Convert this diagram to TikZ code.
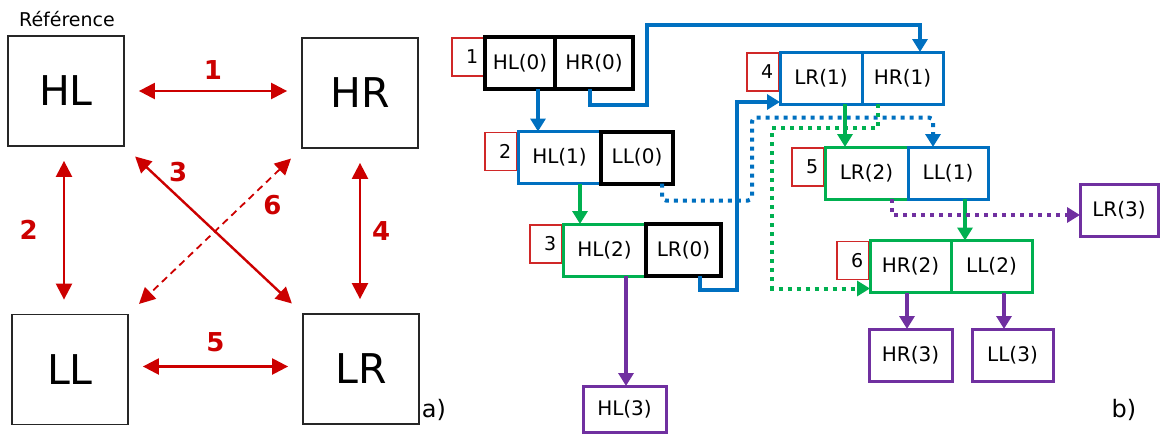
\documentclass[tikz,border=0pt]{standalone}
\usepackage{fontspec}
\setmainfont{DejaVu Sans}
\usetikzlibrary{arrows.meta, positioning, calc, backgrounds}
\definecolor{arred}{HTML}{CC0000}
\definecolor{numred}{HTML}{D02828}
\definecolor{cblue}{HTML}{0070C0}
\definecolor{cgreen}{HTML}{00B050}
\definecolor{cpurple}{HTML}{7030A0}
\tikzset{
  bigbox/.style={rectangle, draw=black!85, line width=1.8pt, minimum width=116pt,
                 minimum height=110pt, font=\fontsize{41}{48}\selectfont},
  lbl/.style={text=arred, inner sep=0pt, font=\bfseries\fontsize{26}{30}\selectfont},
  rarr/.style={{Triangle[length=16pt,width=16pt]}-{Triangle[length=16pt,width=16pt]},
               draw=arred, line width=2.4pt, shorten <=14pt, shorten >=14pt},
  rdash/.style={rarr, line width=1.8pt, dash pattern=on 7pt off 5pt},
  cell/.style={rectangle, draw, line width=3pt, outer sep=0pt, inner sep=0pt,
               minimum height=52pt, minimum width=81pt, fill=white,
               font=\fontsize{20}{24}\selectfont},
  blackcell/.style={cell, draw=black, line width=4pt},
  bluecell/.style={cell, draw=cblue},
  greencell/.style={cell, draw=cgreen},
  purplecell/.style={cell, draw=cpurple},
  numbox/.style={rectangle, draw=numred, line width=1.6pt, minimum width=32pt,
                 minimum height=38pt, text width=20pt, align=right, inner xsep=4pt,
                 inner ysep=0pt, font=\fontsize{19}{22}\selectfont},
  barr/.style={-{Triangle[length=13pt,width=15pt]}, draw=cblue, line width=4pt},
  garr/.style={barr, draw=cgreen},
  parr/.style={barr, draw=cpurple},
  bdot/.style={barr, dash pattern=on 4pt off 5pt},
  gdot/.style={garr, dash pattern=on 4pt off 5pt},
  pdot/.style={parr, dash pattern=on 4pt off 5pt},
}
\begin{document}
\begin{tikzpicture}[x=1pt, y=-1pt]
  \useasboundingbox (0,0) rectangle (1161,434);

  %% === a) reference square ===
  \node[font=\fontsize{19}{22}\selectfont] (ref) at (67,19) {Référence};
  \node[bigbox] (bighl) at (66,91)    {HL};
  \node[bigbox] (bighr) at (360,93)   {HR};
  \node[bigbox] (bigll) at (70,369.5) {LL};
  \node[bigbox] (biglr) at (361,369)  {LR};
  \node[font=\fontsize{24}{28}\selectfont] (taga) at (434,410) {a)};

  \draw[rarr] (bighl.east) -- (bighl.east -| bighr.west)
    node[lbl, midway, above=10pt] {1};
  \draw[rarr] ([xshift=-2pt]bighl.south) -- ([xshift=-2pt]bighl.south |- bigll.north)
    node[lbl, midway, left=25pt] {2};
  \draw[rarr] (bighl.south east) -- (biglr.north west)
    node[lbl, pos=0.3, above=14pt] {3};
  \draw[rarr] (bighr.south) -- (bighr.south |- biglr.north)
    node[lbl, midway, right=11pt] {4};
  \draw[rarr] ([yshift=3pt]bigll.east) -- ([yshift=3pt]bigll.east -| biglr.west)
    node[lbl, midway, above=13pt] {5};
  \draw[rdash] (bighr.south west) -- (bigll.north east)
    node[lbl, pos=0.34, right=20pt] {6};

  %% === b) sequence of moves ===
  \node[font=\fontsize{24}{28}\selectfont] (tagb) at (1124,410) {b)};

  % step 1
  \node[blackcell, minimum width=70pt] (hlzero) at (520,63) {HL(0)};
  \node[blackcell, minimum width=78pt, right=0pt of hlzero] (hrzero) {HR(0)};
  % step 2
  \node[bluecell, minimum width=83pt] (hlone) at (559.5,157.5) {HL(1)};
  \node[blackcell, minimum width=72pt, right=0pt of hlone] (llzero) {LL(0)};
  % step 3
  \node[greencell, minimum width=83pt] (hltwo) at (604.5,250) {HL(2)};
  \node[blackcell, minimum width=75pt, right=0pt of hltwo] (lrzero) {LR(0)};
  \node[purplecell, minimum width=83pt, minimum height=46pt] (hlthree) at (624.5,409) {HL(3)};
  % step 4
  \node[bluecell, minimum width=82pt] (lrone) at (821,78) {LR(1)};
  \node[bluecell, right=0pt of lrone] (hrone) {HR(1)};
  % step 5
  \node[greencell, minimum width=83pt] (lrtwo) at (866.5,173) {LR(2)};
  \node[bluecell, minimum width=80pt, right=0pt of lrtwo] (llone) {LL(1)};
  \node[purplecell, minimum width=78pt] (lrthree) at (1119,210) {LR(3)};
  % step 6
  \node[greencell] (hrtwo) at (910.5,266.5) {HR(2)};
  \node[greencell, right=0pt of hrtwo] (lltwo) {LL(2)};
  \node[purplecell, minimum width=83pt] (hrthree) at (910.5,355) {HR(3)};
  \node[purplecell] (llthree) at (1012.5,355) {LL(3)};

  %% step numbers (behind the boxes)
  \begin{scope}[on background layer]
    \node[numbox, anchor=north east] (numone)   at (hlzero.north west) {1};
    \node[numbox, anchor=north east] (numtwo)   at (hlone.north west)  {2};
    \node[numbox, anchor=north east] (numthree) at (hltwo.north west)  {3};
    \node[numbox, anchor=north east] (numfour)  at (lrone.north west)  {4};
    \node[numbox, anchor=north east] (numfive)  at (lrtwo.north west)  {5};
    \node[numbox, anchor=north east] (numsix)   at (hrtwo.north west)  {6};
  \end{scope}

  %% blue moves
  \draw[barr] ([xshift=18pt]hlzero.south) -- ([xshift=18pt]hlzero.south |- hlone.north);
  \draw[barr] ([xshift=-4pt]hrzero.south) -- ++(0,16) -- ++(57,0) -- ++(0,-80)
    -| ([xshift=17.5pt]hrone.north);
  \draw[barr] ([xshift=16.5pt]lrzero.south) -- ++(0,14) -- ++(37,0)
    |- ([yshift=2pt]lrone.south west);
  \draw[bdot, rounded corners=4pt] ([xshift=25pt]llzero.south) -- ++(0,17)
    -| ++(90,-83) -| ([xshift=-15pt]llone.north);

  %% green moves
  \draw[garr] ([xshift=20.5pt]hlone.south) -- ([xshift=20.5pt]hlone.south |- hltwo.north);
  \draw[garr] ([xshift=24pt]lrone.south) -- ([xshift=24pt]lrone.south |- lrtwo.north);
  \draw[garr] ([xshift=17pt]llone.south) -- ([xshift=17pt]llone.south |- lltwo.north);
  \draw[gdot] ([xshift=-24.5pt]hrone.south) -- ++(0,24) -- ++(-106,0)
    |- ([yshift=4pt]hrtwo.south west);

  %% purple moves
  \draw[parr] ([xshift=21.5pt]hltwo.south) -- ([xshift=21.5pt]hltwo.south |- hlthree.north);
  \draw[parr] ([xshift=-3.5pt]hrtwo.south) -- ([xshift=-3.5pt]hrtwo.south |- hrthree.north);
  \draw[parr] ([xshift=12.5pt]lltwo.south) -- ([xshift=12.5pt]lltwo.south |- llthree.north);
  \draw[pdot] ([xshift=25.5pt]lrtwo.south) |- ([yshift=-5pt]lrthree.west);
\end{tikzpicture}
\end{document}
